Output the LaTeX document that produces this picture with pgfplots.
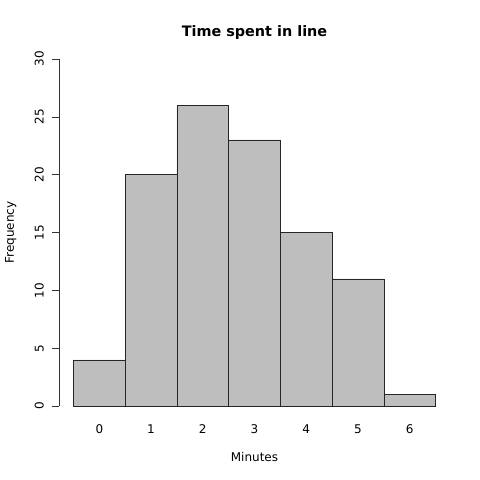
\documentclass[border=0pt]{standalone}
\usepackage{pgfplots}
\pgfplotsset{compat=1.18}
\usepackage{fontspec}
\setmainfont{DejaVu Sans}
\definecolor{bargray}{HTML}{BEBEBE}
\begin{document}
\begin{tikzpicture}
\useasboundingbox (0,0) rectangle (480bp,480bp);
\begin{axis}[
    at={(59bp,60bp)}, anchor=south west,
    width=391bp, height=375bp, scale only axis,
    xmin=-0.78, xmax=6.78,
    ymin=-1.2, ymax=31.2,
    axis x line*=bottom, axis y line*=left,
    x axis line style={draw=none},
    y axis line style={draw=none},
    xtick={0,1,2,3,4,5,6},
    major x tick style={draw=none},
    ytick={0,5,10,15,20,25,30},
    tick align=outside,
    major tick length=7bp,
    major y tick style={black!80, line width=0.5bp},
    ticklabel style={font=\fontsize{12bp}{14bp}\selectfont},
    /pgf/number format/assume math mode=true,
    xticklabel style={anchor=base, yshift=-6bp},
    yticklabel style={xshift=-8.5bp, rotate=90, anchor=base},
    xlabel={Minutes},
    ylabel={Frequency},
    label style={font=\fontsize{12bp}{14bp}\selectfont},
    xlabel style={at={(axis description cs:0.5,0)}, anchor=base, yshift=-41.5bp},
    ylabel style={at={(axis description cs:-0.1151,0.5)}, rotate=0, anchor=base},
    title={\bfseries Time spent in line},
    title style={at={(axis description cs:0.5,1)}, anchor=base, yshift=3bp, font=\fontsize{14.4bp}{16bp}\selectfont},
    clip=false,
]
\draw[black!80, line width=0.5bp] (axis cs:-0.78,0) -- (axis cs:-0.78,30);
\addplot[ybar, bar width=1, fill=bargray, draw=black!85, line width=0.5bp]
coordinates {
 (0,4) (1,20) (2,26) (3,23) (4,15) (5,11) (6,1)
};
\end{axis}
\end{tikzpicture}
\end{document}
